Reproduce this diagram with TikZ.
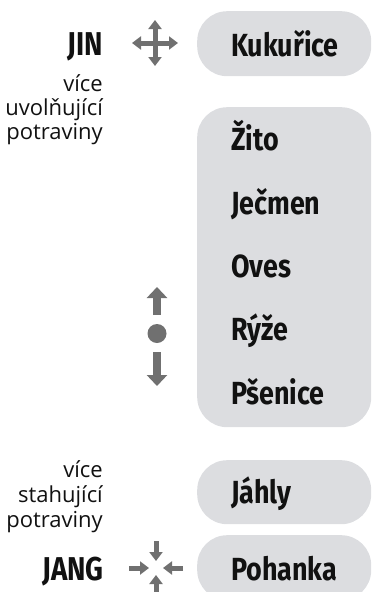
\documentclass[tikz,border=0pt]{standalone}
\usepackage{fontspec}
\setmainfont{Fira Sans}
\newfontfamily\itemfont[FakeStretch=0.84]{Fira Sans Bold}
\newfontfamily\notefont{Open Sans}
\usetikzlibrary{arrows.meta,calc}
\definecolor{boxgray}{HTML}{DCDDE0}
\definecolor{arrgray}{HTML}{707070}
\definecolor{ink}{HTML}{111111}
\tikzset{
  pill/.style={draw=none, fill=boxgray, rounded corners=30pt, minimum width=174pt, inner sep=0pt, anchor=north west},
  item/.style={anchor=base west, inner sep=0pt, text=ink, font=\itemfont\fontsize{32}{36}\selectfont},
  pole/.style={anchor=base east, inner sep=0pt, text=ink, font=\itemfont\fontsize{33}{38}\selectfont},
  note/.style={anchor=base east, inner sep=0pt, text=ink, font=\notefont\fontsize{22}{24}\selectfont},
  thinarr/.style={draw=arrgray, line width=5pt, -{Triangle[width=13pt,length=9pt]}},
  thickarr/.style={draw=arrgray, line width=7.5pt, -{Triangle[width=20pt,length=11pt]}}
}
\begin{document}
\begin{tikzpicture}[x=1pt,y=1pt]
\useasboundingbox (0,0) rectangle (372,-592);
\clip (0,0) rectangle (372,-592);
% boxes
\node[pill, minimum height=65pt] (b1) at (197,-11) {};
\node[pill, minimum height=320pt] (b2) at (197,-107) {};
\node[pill, minimum height=64pt] (b3) at (197,-460) {};
\node[pill, minimum height=65pt] (b4) at (197,-535) {};
% items
\node[item] (kuk) at (231,-56) {Kukuřice};
\node[item] (zit) at (231,-150) {Žito};
\node[item] (jec) at (231,-214) {Ječmen};
\node[item] (ove) at (231,-277) {Oves};
\node[item] (ryz) at (231,-340) {Rýže};
\node[item] (pse) at (231,-404) {Pšenice};
\node[item] (jah) at (231,-503) {Jáhly};
\node[item] (poh) at (231,-580) {Pohanka};
% left labels
\node[pole] (jin) at (103,-55) {JIN};
\node[note] (t1) at (103,-91) {více};
\node[note] (t2) at (103,-115) {uvolňující};
\node[note] (t3) at (103,-139) {potraviny};
\node[note] (s1) at (103,-477) {více};
\node[note] (s2) at (103,-502) {stahující};
\node[note] (s3) at (103,-527) {potraviny};
\node[pole] (jang) at (104,-580) {JANG};
% four-way arrow (outward)
\coordinate (c1) at (155,-43);
\draw[thinarr] (c1) -- ++(23,0);
\draw[thinarr] (c1) -- ++(-23,0);
\draw[thinarr] (c1) -- ++(0,23);
\draw[thinarr] (c1) -- ++(0,-23);
% inward arrows
\coordinate (c2) at (156,-568);
\draw[thinarr] ($(c2)+(-27,0)$) -- ++(20,0);
\draw[thinarr] ($(c2)+(27,0)$) -- ++(-20,0);
\draw[thinarr] ($(c2)+(0,27)$) -- ++(0,-20);
\draw[thinarr] ($(c2)+(0,-27)$) -- ++(0,20);
% up/down with dot
\node[circle, fill=arrgray, minimum size=19pt, inner sep=0pt] (dot) at (157,-333.5) {};
\coordinate (upa) at (157,-315);
\coordinate (upb) at (157,-287);
\coordinate (dna) at (157,-352);
\coordinate (dnb) at (157,-386);
\draw[thickarr] (upa) -- (upb);
\draw[thickarr] (dna) -- (dnb);
\end{tikzpicture}
\end{document}
